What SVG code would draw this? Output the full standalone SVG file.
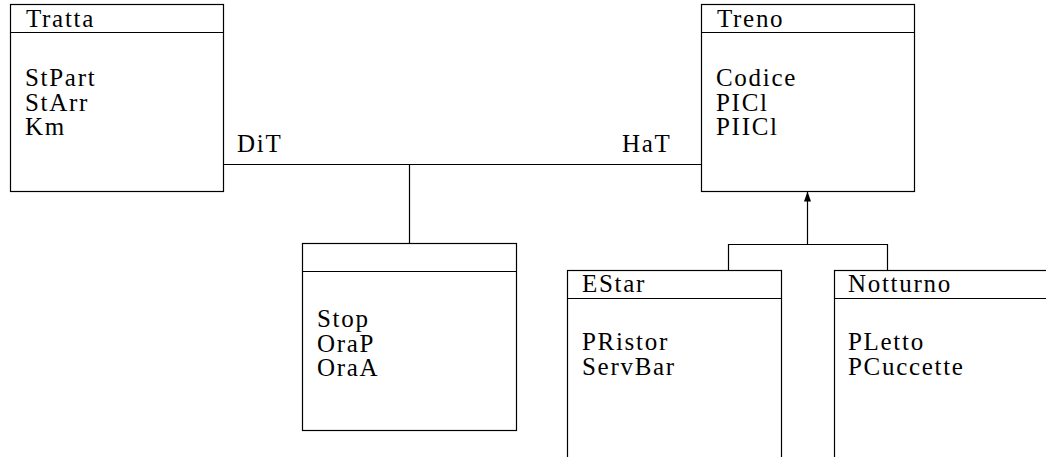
<svg xmlns="http://www.w3.org/2000/svg" width="1046" height="457" viewBox="0 0 1046 457">
<style>
.box{fill:#fff;stroke:#000;stroke-width:1.2}
.sep{stroke:#000;stroke-width:1.2}
.t{font-family:'Liberation Serif','DejaVu Serif',serif;font-size:25px;letter-spacing:1.7px;fill:#000}
.c{stroke:#000;stroke-width:1.2;fill:none}
</style>
<defs>
<marker id="arr" markerWidth="10" markerHeight="8" refX="9.5" refY="4" orient="auto" markerUnits="userSpaceOnUse">
<path d="M0,0.5 L10,4 L0,7.5 Z" fill="#000"/>
</marker>
</defs>
<rect width="1046" height="457" fill="#fff"/>
<g id="connectors">
<line class="c" x1="223.5" y1="164.5" x2="701.5" y2="164.5"/>
<line class="c" x1="409.5" y1="164.5" x2="409.5" y2="243.5"/>
<line class="c" x1="807.5" y1="244.5" x2="807.5" y2="192" marker-end="url(#arr)"/>
<polyline class="c" points="728.5,270.5 728.5,244.5 887.5,244.5 887.5,270.5"/>
<text class="t" x="237" y="151.5">DiT</text>
<text class="t" x="622" y="151.5">HaT</text>
</g>
<g id="tratta">
<rect class="box" x="10.5" y="4.5" width="213" height="187"/>
<line class="sep" x1="10.5" y1="32.5" x2="223.5" y2="32.5"/>
<text class="t" x="26" y="26.5">Tratta</text>
<text class="t" x="25" y="86">StPart</text>
<text class="t" x="25" y="110.5">StArr</text>
<text class="t" x="25" y="135">Km</text>
</g>
<g id="treno">
<rect class="box" x="701.5" y="4.5" width="213" height="187"/>
<line class="sep" x1="701.5" y1="32.5" x2="914.5" y2="32.5"/>
<text class="t" x="717" y="26.5">Treno</text>
<text class="t" x="716" y="86">Codice</text>
<text class="t" x="716" y="110.5">PICl</text>
<text class="t" x="716" y="135">PIICl</text>
</g>
<g id="fermata">
<rect class="box" x="302.5" y="243.5" width="214" height="187"/>
<line class="sep" x1="302.5" y1="271.5" x2="516.5" y2="271.5"/>
<text class="t" x="317" y="327">Stop</text>
<text class="t" x="317" y="351.5">OraP</text>
<text class="t" x="317" y="376">OraA</text>
</g>
<g id="estar">
<rect class="box" x="567.5" y="270.5" width="214" height="200"/>
<line class="sep" x1="567.5" y1="298.5" x2="781.5" y2="298.5"/>
<text class="t" x="582" y="292">EStar</text>
<text class="t" x="582" y="350">PRistor</text>
<text class="t" x="582" y="374.5">ServBar</text>
</g>
<g id="notturno">
<rect class="box" x="834.5" y="270.5" width="214" height="200"/>
<line class="sep" x1="834.5" y1="298.5" x2="1048" y2="298.5"/>
<text class="t" x="848" y="292">Notturno</text>
<text class="t" x="848" y="350">PLetto</text>
<text class="t" x="848" y="374.5">PCuccette</text>
</g>
</svg>
